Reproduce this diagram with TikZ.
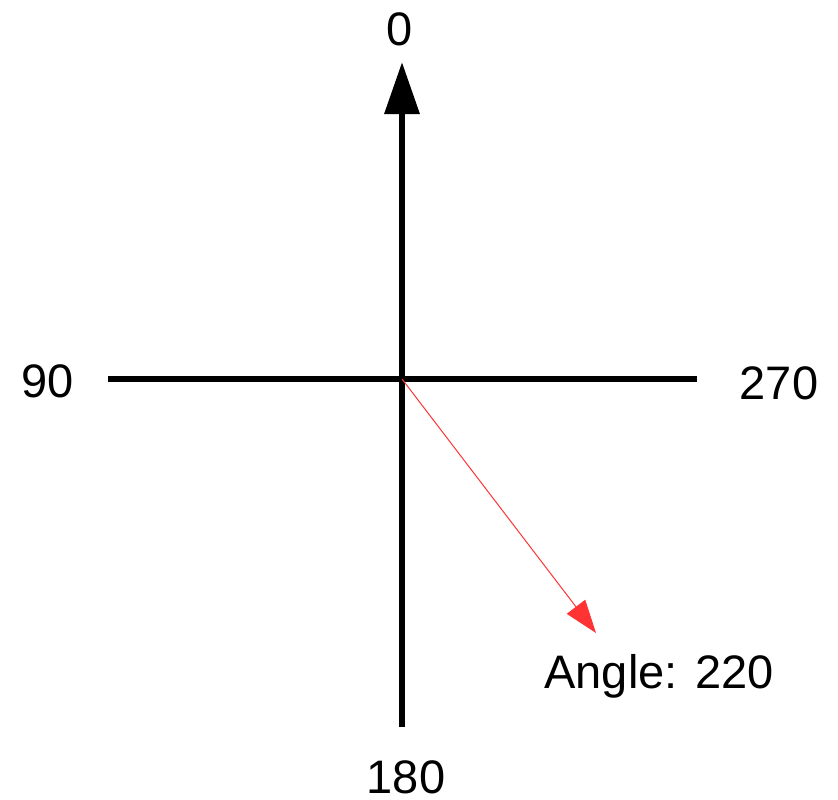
\documentclass[tikz,border=0pt]{standalone}
\usepackage{fontspec}
\setmainfont{Liberation Sans}
\usetikzlibrary{arrows.meta}
\definecolor{arrred}{HTML}{FF3333}
\tikzset{
  axis/.style={line width=6.5pt},
  lbl/.style={inner sep=0pt, font=\fontsize{47}{50}\selectfont},
}
\begin{document}
\begin{tikzpicture}[x=1pt,y=-1pt]
\useasboundingbox (0,0) rectangle (838,800);
\coordinate (o) at (402,379);
\coordinate (top) at (402,62);
\coordinate (bot) at (402,727);
\coordinate (lft) at (108,379);
\coordinate (rgt) at (697,379);
\coordinate (rtip) at (596,633);
\draw[axis, -{Triangle[length=52pt,width=34pt]}] (bot) -- (top);
\draw[axis] (lft) -- (rgt);
\draw[arrred, line width=1pt, -{Triangle[length=33pt,width=23pt]}] (o) -- (rtip);
\node[lbl] (l0) at (400,29) {0};
\node[lbl] (l90) at (48,381) {90};
\node[lbl] (l270) at (779,383) {270};
\node[lbl] (l180) at (406,777) {180};
\node[lbl] (lang) at (659,676) {Angle: 220};
\end{tikzpicture}
\end{document}
